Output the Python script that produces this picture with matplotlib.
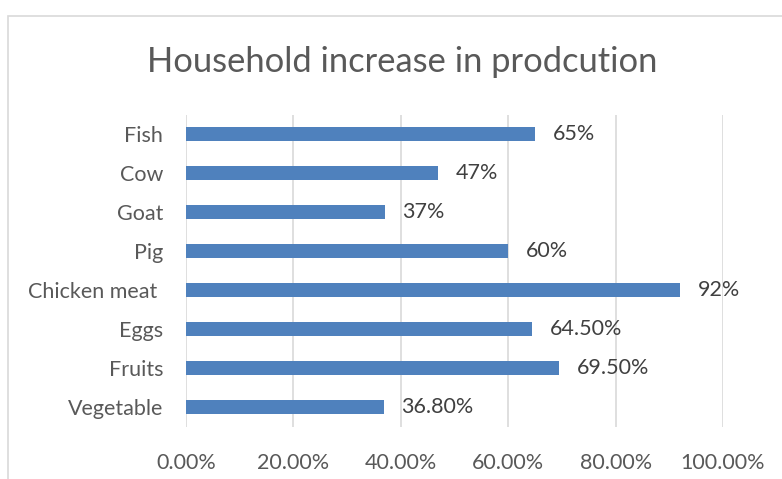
import matplotlib
matplotlib.use("Agg")
import matplotlib.pyplot as plt
from matplotlib.patches import Rectangle
from matplotlib.ticker import FuncFormatter

categories = ["Vegetable", "Fruits", "Eggs", "Chicken meat ", "Pig", "Goat", "Cow", "Fish"]
values = [36.8, 69.5, 64.5, 92, 60, 37, 47, 65]
value_labels = ["36.80%", "69.50%", "64.50%", "92%", "60%", "37%", "47%", "65%"]
xticks = [0, 20, 40, 60, 80, 100]

plt.rcParams['font.family'] = ['Lato', 'DejaVu Sans']

fig = plt.figure(figsize=(7.82, 4.79), dpi=100)
fig.patch.set_facecolor("white")

# chart border (partially cropped in reference)
fig.patches.append(Rectangle((8/782, -0.1), 1.2, 1 - 16/479 + 0.1, transform=fig.transFigure,
                             fill=False, edgecolor="#D9D9D9", linewidth=1.2))

ax = fig.add_axes([186/782, 1 - 426.5/479, 537/782, 312/479])
y = list(range(len(categories)))
ax.barh(y, values, height=0.36, color="#4F81BD", zorder=3)
ax.set_xlim(0, 100)
ax.set_ylim(-0.5, len(categories) - 0.5)
ax.set_xticks(xticks)
ax.xaxis.set_major_formatter(FuncFormatter(lambda v, p: f"{v:.2f}%"))
ax.set_yticks(y)
ax.set_yticklabels(categories)
ax.grid(axis="x", color="#D9D9D9", linewidth=1.2, zorder=0)
for s in ax.spines.values():
    s.set_visible(False)
ax.tick_params(axis="both", length=0, labelsize=15.5, labelcolor="#595959")
ax.tick_params(axis="y", pad=16.5)
ax.tick_params(axis="x", pad=19)

for yi, v, lab in zip(y, values, value_labels):
    ax.annotate(lab, (v, yi), xytext=(12.5, 0), textcoords="offset points",
                va="center", ha="left", fontsize=15.5, color="#404040")

fig.text(402/782, 1 - 62/479, "Household increase in prodcution", ha="center", va="center",
         fontsize=24.8, color="#595959")

fig.savefig("out.png", dpi=100)
